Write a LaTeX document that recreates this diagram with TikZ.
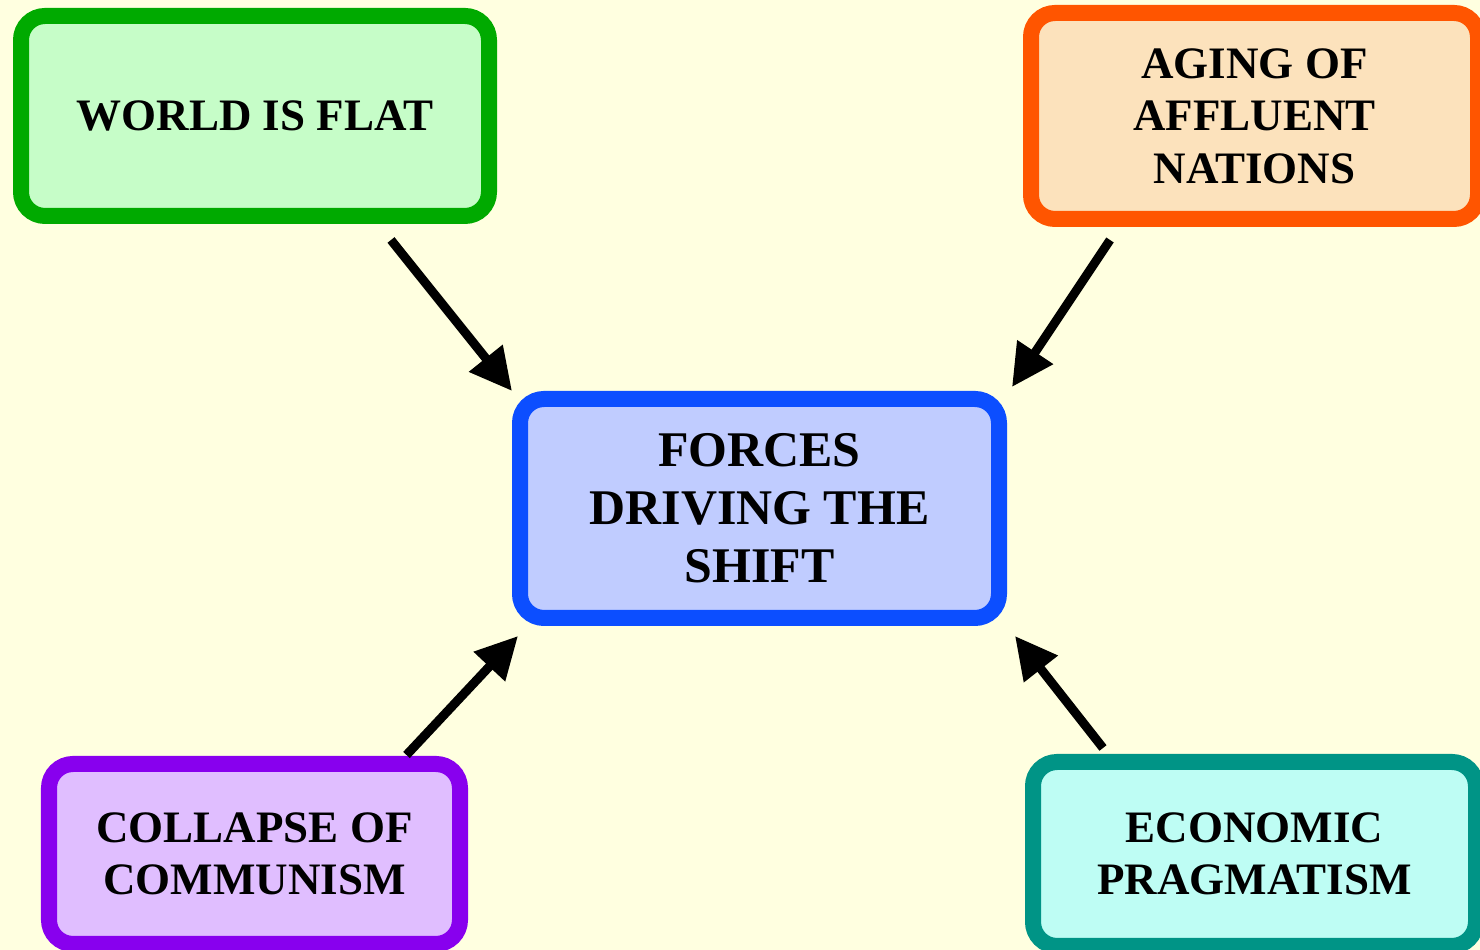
\documentclass[tikz,border=0pt]{standalone}
\usepackage{fontspec}
\setmainfont{Liberation Serif}
\usetikzlibrary{arrows.meta}
\definecolor{bgyellow}{HTML}{FFFFE0}
\definecolor{flatline}{HTML}{00AA00}
\definecolor{flatfill}{HTML}{C6FDC8}
\definecolor{agingline}{HTML}{FF5500}
\definecolor{agingfill}{HTML}{FCE2BC}
\definecolor{forcesline}{HTML}{0C4EFF}
\definecolor{forcesfill}{HTML}{C0CCFF}
\definecolor{collapseline}{HTML}{8800EE}
\definecolor{collapsefill}{HTML}{E0BEFF}
\definecolor{pragline}{HTML}{009486}
\definecolor{pragfill}{HTML}{BEFDF4}
\tikzset{
	forcebox/.style={rectangle, rounded corners=0.24cm, line width=0.16cm, align=center, inner sep=0pt,
		font=\fontsize{12.8}{14.9}\selectfont\bfseries},
	pusharrow/.style={line width=0.09cm, -{Triangle[length=4.2mm,width=4.1mm]}}
}

\begin{document}
\begin{tikzpicture}
			%%%%% START %%%%%
			\fill[bgyellow] (0, 0) rectangle (14.8, 9.5);
			\useasboundingbox (0, 0) rectangle (14.8, 9.5);
			
			\node[forcebox, draw=flatline, fill=flatfill, minimum width=4.68cm, minimum height=2.0cm] (flat) at (2.55, 8.34) {WORLD IS FLAT};
			\node[forcebox, draw=agingline, fill=agingfill, minimum width=4.47cm, minimum height=2.06cm] (aging) at (12.545, 8.34) {AGING OF\\AFFLUENT\\NATIONS};
			
			\node[forcebox, draw=forcesline, fill=forcesfill, minimum width=4.79cm, minimum height=2.19cm,
				font=\fontsize{14.2}{16.5}\selectfont\bfseries] (forces) at (7.595, 4.415) {FORCES\\DRIVING THE\\SHIFT};
			
			\node[forcebox, draw=collapseline, fill=collapsefill, minimum width=4.11cm, minimum height=1.8cm] (collapse) at (2.545, 0.96) {COLLAPSE OF\\COMMUNISM};
			\node[forcebox, draw=pragline, fill=pragfill, minimum width=4.43cm, minimum height=1.84cm] (prag) at (12.545, 0.96) {ECONOMIC\\PRAGMATISM};
			
			\draw[pusharrow] ([shift={(1.36, -0.16)}]flat.south) -- (forces.north west);
			\draw[pusharrow] ([shift={(-1.445, -0.13)}]aging.south) -- ([shift={(0.05, 0.04)}]forces.north east);
			\draw[pusharrow] ([shift={(1.52, 0.01)}]collapse.north) -- ([shift={(0.06, -0.1)}]forces.south west);
			\draw[pusharrow] ([shift={(-1.515, 0.06)}]prag.north) -- ([shift={(0.08, -0.1)}]forces.south east);
			%%%%% END %%%%%
		\end{tikzpicture}
\end{document}
